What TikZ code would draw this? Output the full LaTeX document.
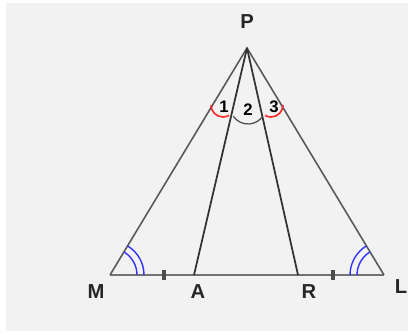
\documentclass[tikz,border=0pt]{standalone}
\usepackage{fontspec}
\setmainfont{Liberation Sans}
\usetikzlibrary{angles, calc}

\begin{document}
\begin{tikzpicture}[x=0.02cm, y=-0.02cm,
  side/.style={draw=black!65, line width=0.9pt},
  cevian/.style={draw=black!80, line width=1pt},
  base/.style={draw=black!55, line width=1.5pt},
  tick/.style={draw=black!70, line width=1.8pt},
  lbl/.style={font=\bfseries\fontsize{11.5}{13}\selectfont, text=black!85},
  num/.style={font=\bfseries\fontsize{9.5}{11}\selectfont, inner sep=0.5pt},
  redarc/.style={draw=red!85, line width=0.9pt},
  blackarc/.style={draw=black!70, line width=0.7pt},
  bluearc/.style={draw=blue!80, line width=0.8pt}]
\useasboundingbox (0,0) rectangle (408,334);
\fill[white] (0,0) rectangle (408,334);
\fill[black!5] (6,3) rectangle (408,331);
\coordinate (P) at (247,48);
\coordinate (M) at (110,275);
\coordinate (A) at (194,275);
\coordinate (R) at (298,275);
\coordinate (L) at (384,275);
\draw[base] (M) -- (L);
\draw[side] (M) -- (P) -- (L);
\draw[cevian] (P) -- (A);
\draw[cevian] (P) -- (R);
\draw[tick] (164,270) -- (164,280);
\draw[tick] (333,270) -- (333,280);
% angles at P
\draw[redarc] (211,105) arc[start angle=180, end angle=60, radius=12];
\draw[blackarc] ($(248,106)+(145:18)$) arc[start angle=145, end angle=35, radius=18];
\draw[redarc] (283,105) arc[start angle=0, end angle=120, radius=12];
% base angles
\pic[bluearc, angle radius=0.54cm] {angle=L--M--P};
\pic[bluearc, angle radius=0.68cm] {angle=L--M--P};
\pic[bluearc, angle radius=0.54cm] {angle=P--L--M};
\pic[bluearc, angle radius=0.68cm] {angle=P--L--M};
\node[lbl] (lP) at (247,22) {P};
\node[lbl] (lM) at (96,292) {M};
\node[lbl] (lA) at (198,292) {A};
\node[lbl] (lR) at (309,292) {R};
\node[lbl] (lL) at (401,287) {L};
\node[num] (n1) at (224,107) {1};
\node[num] (n2) at (248,110) {2};
\node[num] (n3) at (274,107) {3};
\end{tikzpicture}
\end{document}
